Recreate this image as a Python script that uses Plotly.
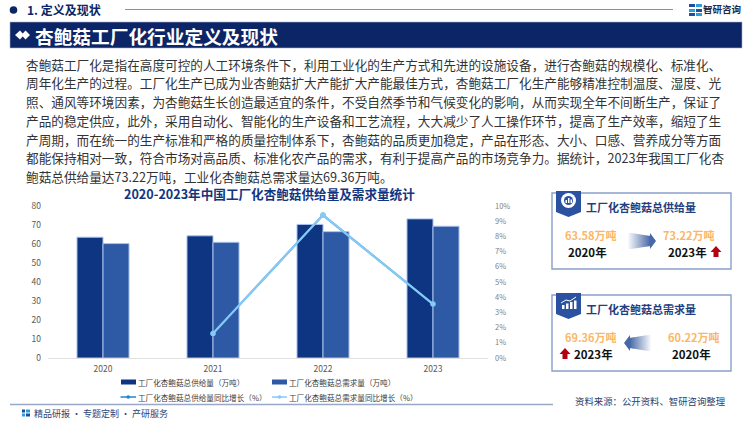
# ========= 0. Imports =========
import plotly.graph_objects as go

# ========= 1. Data =========
years = ["2020", "2021", "2022", "2023"]
supply = [63.58, 64.3, 70.3, 73.22]
demand = [60.22, 60.9, 66.5, 69.36]
supply_growth = [None, 1.62, 9.4, 3.55]
demand_growth = [None, 1.62, 9.4, 3.55]
left_ticks = [0, 10, 20, 30, 40, 50, 60, 70, 80]
right_ticks = [0, 1, 2, 3, 4, 5, 6, 7, 8, 9, 10]
right_labels = ["0%", "1%", "2%", "3%", "4%", "5%", "6%", "7%", "8%", "9%", "10%"]

paragraph = [
    "杏鲍菇工厂化是指在高度可控的人工环境条件下，利用工业化的生产方式和先进的设施设备，进行杏鲍菇的规模化、标准化、",
    "周年化生产的过程。工厂化生产已成为业杏鲍菇扩大产能扩大产能最佳方式，杏鲍菇工厂化生产能够精准控制温度、湿度、光",
    "照、通风等环境因素，为杏鲍菇生长创造最适宜的条件，不受自然季节和气候变化的影响，从而实现全年不间断生产，保证了",
    "产品的稳定供应，此外，采用自动化、智能化的生产设备和工艺流程，大大减少了人工操作环节，提高了生产效率，缩短了生",
    "产周期，而在统一的生产标准和严格的质量控制体系下，杏鲍菇的品质更加稳定，产品在形态、大小、口感、营养成分等方面",
    "都能保持相对一致，符合市场对高品质、标准化农产品的需求，有利于提高产品的市场竞争力。据统计，2023年我国工厂化杏",
    "鲍菇总供给量达73.22万吨，工业化杏鲍菇总需求量达69.36万吨。",
]

# ========= 2. Colours and helpers =========
FONT = "Noto Sans CJK SC"
NAVY = "#0b2566"
DARK_BAR = "#0d3581"
MID_BAR = "#2e59a5"
LIGHT_LINE = "#86c9f5"
DARK_LINE = "#1c86cf"
ORANGE = "#fbb767"
CARD = "#8a9fca"
RED = "#b40010"


def px(x):
    return x / 750


def py(y):
    return 1 - y / 421


shapes = []
annotations = []


def text(x, y, s, size, color="#333333", anchor="left", bold=False, family=FONT):
    if bold:
        s = "<b>" + s + "</b>"
    annotations.append(dict(
        x=px(x), y=py(y), xref="paper", yref="paper", text=s, showarrow=False,
        xanchor=anchor, yanchor="middle", borderpad=0, borderwidth=0,
        font=dict(family=family, size=size, color=color),
    ))


def rect(x0, y0, x1, y1, fill, line=None, width=0):
    shapes.append(dict(
        type="rect", xref="paper", yref="paper", x0=px(x0), x1=px(x1), y0=py(y0), y1=py(y1),
        fillcolor=fill, line=dict(color=line or fill, width=width),
    ))


def circle(cx, cy, r, fill):
    shapes.append(dict(
        type="circle", xref="paper", yref="paper", x0=px(cx - r), x1=px(cx + r), y0=py(cy - r), y1=py(cy + r),
        fillcolor=fill, line=dict(width=0),
    ))


def poly(points, fill):
    path = "M " + " L ".join(f"{px(x):.5f},{py(y):.5f}" for x, y in points) + " Z"
    shapes.append(dict(type="path", xref="paper", yref="paper", path=path, fillcolor=fill, line=dict(width=0)))


def hline(x0, x1, y, color, width):
    shapes.append(dict(
        type="line", xref="paper", yref="paper", x0=px(x0), x1=px(x1), y0=py(y), y1=py(y),
        line=dict(color=color, width=width),
    ))


def fade_arrow(tail, neck, tip, cy):
    # gradient arrow: thin strips from white to blue, then a solid head
    steps = abs(neck - tail)
    sign = 1 if neck > tail else -1
    for i in range(steps):
        t = i / steps
        half = 8.5 - 3.5 * t
        r = int(255 + (70 - 255) * t)
        g = int(255 + (104 - 255) * t)
        b = int(255 + (168 - 255) * t)
        x0 = tail + sign * i
        rect(x0, cy - half, x0 + sign * 1.2, cy + half, f"rgb({r},{g},{b})")
    poly([(neck, cy - 8), (tip, cy), (neck, cy + 8)], "#4668a8")


def red_arrow(cx, cy):
    poly([(cx, cy - 6), (cx + 5.5, cy), (cx + 2.5, cy), (cx + 2.5, cy + 5),
          (cx - 2.5, cy + 5), (cx - 2.5, cy), (cx - 5.5, cy)], RED)


# ========= 3. Page furniture =========
circle(13.5, 10, 3.8, NAVY)
text(27, 10, "1. 定义及现状", 12, NAVY, bold=True)
hline(125, 673, 9.5, "#7f8fb8", 1)

# logo
rect(689, 4, 695, 7, "#1f4e9c")
rect(696, 4, 702, 7, "#29a0dc")
rect(689, 9, 695, 12, "#29a0dc")
rect(696, 9, 702, 12, "#1f4e9c")
rect(689, 13, 695, 16, "#1f4e9c")
rect(696, 13, 702, 16, "#29a0dc")
text(703, 9.5, "智研咨询", 9.5, "#1b2a4a", bold=True)

# title band
rect(10, 22, 742, 48, "#0b2566", "#a9b4cf", 0.6)
poly([(15, 35), (20, 30.5), (24, 35), (20, 39.5)], "#ffffff")
poly([(21.5, 35), (25.5, 30.5), (30, 35), (25.5, 39.5)], "#ffffff")
text(35, 35, "杏鲍菇工厂化行业定义及现状", 18.7, "#ffffff", bold=True)

for i, line in enumerate(paragraph):
    text(26, 64 + i * 18.8, line, 12.65, "#333333")

text(269, 193.5, "2020-2023年中国工厂化杏鲍菇供给量及需求量统计", 12.6, "#12357f", "center", bold=True)

# footer
hline(10, 553, 404.5, "#9aa8c8", 1.5)
rect(22, 409.5, 25, 412.5, "#1f4e9c")
rect(26, 409.5, 30, 412.5, "#29a0dc")
rect(22, 413.5, 25, 416.5, "#29a0dc")
rect(26, 413.5, 30, 416.5, "#1f4e9c")
text(34, 413.5, "精品研报 · 专题定制 · 产研服务", 9, "#2b4478")
text(575, 401, "资料来源：公开资料、智研咨询整理", 9.4, "#2b3f70")

# ========= 4. Legend =========
legend_color = "#404040"
rect(121, 379.5, 136, 384.5, DARK_BAR)
text(138, 382, "工厂化杏鲍菇总供给量（万吨）", 7.6, legend_color)
rect(272, 379.5, 287, 384.5, MID_BAR)
text(288.5, 382, "工厂化杏鲍菇总需求量（万吨）", 7.6, legend_color)
hline(120.5, 136, 397, DARK_LINE, 1.5)
circle(128.2, 397, 1.8, DARK_LINE)
text(138, 397, "工厂化杏鲍菇总供给量同比增长（%）", 7.6, legend_color)
hline(272, 287, 397, LIGHT_LINE, 1.5)
circle(279.5, 397, 1.8, LIGHT_LINE)
text(288.5, 397, "工厂化杏鲍菇总需求量同比增长（%）", 7.6, legend_color)

# ========= 5. Side cards =========
for top, title in [(193, "工厂化杏鲍菇总供给量"), (295, "工厂化杏鲍菇总需求量")]:
    rect(552, top, 731, top + 76, "#ffffff", CARD, 1.4)
    poly([(556, top - 2), (581, top - 2), (581, top + 19), (568.5, top + 24), (556, top + 19)], "#2a52a0")
    text(586, top + 13.5, title, 11, "#1f3f80", bold=True)

# first badge icon
circle(568.5, 200.5, 7.5, "#ffffff")
circle(568.5, 200.5, 4.5, "#2a52a0")
rect(565.5, 200, 567, 203, "#ffffff")
rect(568, 198, 569.5, 203, "#ffffff")
rect(570.5, 199.5, 572, 203, "#ffffff")

# second badge icon
for bar_x, bar_top in [(562, 305), (566, 303.5), (570, 302), (574, 300.5)]:
    rect(bar_x, bar_top, bar_x + 2.5, 309, "#ffffff")
shapes.append(dict(
    type="path", xref="paper", yref="paper",
    path=f"M {px(561):.5f},{py(303):.5f} L {px(566):.5f},{py(300):.5f} L {px(570):.5f},{py(301):.5f} L {px(576):.5f},{py(297):.5f}",
    line=dict(color="#ffffff", width=1),
))

text(591, 235, "63.58万吨", 11, ORANGE, "center", bold=True)
text(587, 252, "2020年", 11.5, "#111111", "center", bold=True)
fade_arrow(627, 650, 656, 241)
text(689, 235, "73.22万吨", 11, ORANGE, "center", bold=True)
text(687, 252, "2023年", 11.5, "#111111", "center", bold=True)
red_arrow(716, 252)

text(591, 337, "69.36万吨", 11, ORANGE, "center", bold=True)
red_arrow(565, 354)
text(593, 354, "2023年", 11.5, "#111111", "center", bold=True)
fade_arrow(652, 630, 624, 343)
text(694, 337, "60.22万吨", 11, ORANGE, "center", bold=True)
text(691, 354, "2020年", 11.5, "#111111", "center", bold=True)

# ========= 6. Chart =========
fig = go.Figure()
fig.add_trace(go.Bar(x=years, y=supply, name="工厂化杏鲍菇总供给量（万吨）",
                     marker=dict(color=DARK_BAR, line=dict(color="#a9c2ea", width=1))))
fig.add_trace(go.Bar(x=years, y=demand, name="工厂化杏鲍菇总需求量（万吨）",
                     marker=dict(color=MID_BAR, line=dict(color="#a9c2ea", width=1))))
fig.add_trace(go.Scatter(x=years, y=supply_growth, yaxis="y2", mode="lines+markers",
                         name="工厂化杏鲍菇总供给量同比增长（%）",
                         line=dict(color=DARK_LINE, width=2), marker=dict(size=5, color=DARK_LINE)))
fig.add_trace(go.Scatter(x=years, y=demand_growth, yaxis="y2", mode="lines+markers",
                         name="工厂化杏鲍菇总需求量同比增长（%）",
                         line=dict(color=LIGHT_LINE, width=2.2), marker=dict(size=5.5, color=LIGHT_LINE)))

tick_font = dict(family=FONT, size=8.5, color="#595959")
fig.update_layout(
    width=750, height=421, autosize=False,
    margin=dict(l=0, r=0, t=0, b=0, autoexpand=False),
    paper_bgcolor="#ffffff", plot_bgcolor="rgba(0,0,0,0)",
    showlegend=False,
    barmode="group", bargap=0.527, bargroupgap=0,
    xaxis=dict(domain=[px(48), px(488)], showgrid=False, zeroline=False, showline=False,
               ticks="", tickfont=tick_font, type="category", automargin=False,
               ticklabelstandoff=4, anchor="y", fixedrange=True),
    yaxis=dict(domain=[py(358), py(206)], range=[0, 80], tickvals=left_ticks, showgrid=False,
               zeroline=True, zerolinecolor="#e0e0e0", zerolinewidth=1, showline=False,
               ticks="", tickfont=tick_font, ticklabelstandoff=6, fixedrange=True),
    yaxis2=dict(domain=[py(358), py(206)], range=[0, 10], overlaying="y", side="right", anchor="x",
                tickvals=right_ticks, ticktext=right_labels, showgrid=False, zeroline=False, showline=False,
                ticks="", tickfont=dict(family=FONT, size=7.5, color="#7f7f7f"),
                ticklabelstandoff=6, fixedrange=True),
    shapes=shapes,
    annotations=annotations,
)

fig.write_html("out.html", config={"displayModeBar": False},
               post_script="document.body.style.margin='0';")
